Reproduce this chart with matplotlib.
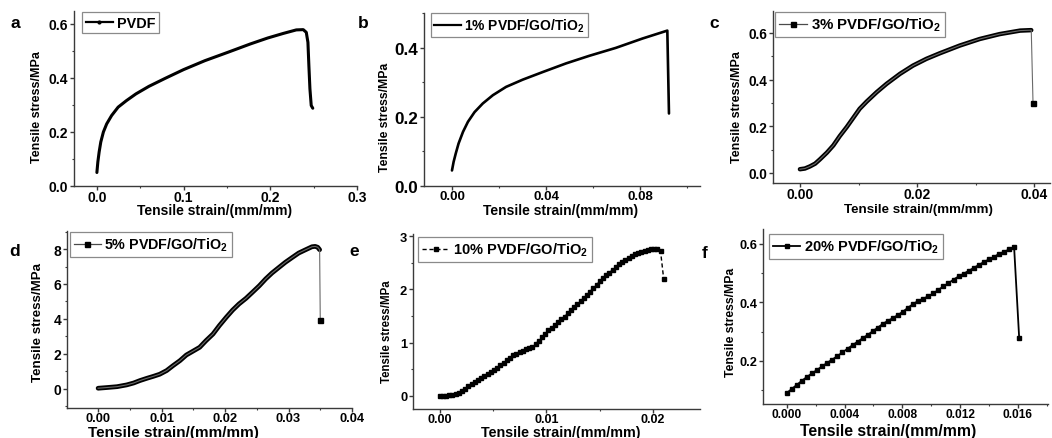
import matplotlib
matplotlib.use("Agg")
import matplotlib.pyplot as plt
from matplotlib.ticker import MultipleLocator
from matplotlib.lines import Line2D

plt.rcParams["font.family"] = ["Liberation Sans", "DejaVu Sans"]
plt.rcParams["font.weight"] = "bold"
plt.rcParams["mathtext.fontset"] = "custom"
plt.rcParams["mathtext.rm"] = "Liberation Sans:bold"
plt.rcParams["mathtext.bf"] = "Liberation Sans:bold"
plt.rcParams["mathtext.default"] = "bf"

# ---- data: tensile stress (MPa) vs tensile strain (mm/mm) ----
a_strain = [0, 0.0011, 0.0026, 0.0045, 0.0075, 0.0113, 0.017, 0.0245, 0.034, 0.045,
            0.060, 0.079, 0.1, 0.1245, 0.151, 0.177, 0.197, 0.215, 0.23, 0.238,
            0.2415, 0.2434, 0.2445, 0.2457, 0.2472, 0.249]
a_stress = [0.05, 0.089, 0.126, 0.163, 0.2, 0.23, 0.261, 0.292, 0.316, 0.341,
            0.369, 0.399, 0.431, 0.464, 0.495, 0.526, 0.548, 0.565, 0.578, 0.579,
            0.569, 0.532, 0.446, 0.36, 0.298, 0.288]

b_strain = [0, 0.0007, 0.0016, 0.0028, 0.0047, 0.0068, 0.0096, 0.0131, 0.0174, 0.023,
            0.0301, 0.0386, 0.0485, 0.0584, 0.0697, 0.081, 0.0916, 0.0923]
b_stress = [0.045, 0.07, 0.094, 0.123, 0.157, 0.186, 0.214, 0.239, 0.263, 0.287,
            0.308, 0.33, 0.355, 0.377, 0.4, 0.427, 0.45, 0.21]

c_strain = [0, 0.00085, 0.0017, 0.0026, 0.0034, 0.0046, 0.0057, 0.0068, 0.008, 0.0091,
            0.0102, 0.0114, 0.0131, 0.0148, 0.0171, 0.0193, 0.0216, 0.0239, 0.0273, 0.0307,
            0.0341, 0.0376, 0.0395, 0.0398]
c_stress = [0.016, 0.019, 0.028, 0.04, 0.058, 0.087, 0.118, 0.158, 0.197, 0.236,
            0.275, 0.306, 0.346, 0.382, 0.425, 0.46, 0.489, 0.513, 0.546, 0.574,
            0.595, 0.61, 0.612, 0.30]

d_strain = [0, 0.0014, 0.003, 0.0045, 0.0056, 0.0066, 0.0077, 0.0087, 0.0097, 0.0108,
            0.0118, 0.0129, 0.0139, 0.015, 0.016, 0.017, 0.0181, 0.0191, 0.0202, 0.0212,
            0.0222, 0.0233, 0.0243, 0.0254, 0.0264, 0.0274, 0.0285, 0.0295, 0.0306, 0.0316,
            0.0327, 0.0337, 0.0342, 0.0346, 0.0349, 0.035]
d_stress = [0.04, 0.08, 0.13, 0.23, 0.34, 0.48, 0.61, 0.72, 0.84, 1.05,
            1.33, 1.62, 1.94, 2.17, 2.38, 2.76, 3.14, 3.62, 4.1, 4.51,
            4.86, 5.18, 5.52, 5.9, 6.29, 6.63, 6.95, 7.24, 7.52, 7.77,
            7.96, 8.13, 8.15, 8.1, 7.96, 3.94]

e_strain = [0.0000, 0.0003, 0.0006, 0.0009, 0.0012, 0.0015, 0.0018, 0.0021, 0.0024, 0.0027,
            0.0030, 0.0033, 0.0036, 0.0039, 0.0042, 0.0045, 0.0048, 0.0051, 0.0054, 0.0057,
            0.0060, 0.0063, 0.0066, 0.0069, 0.0072, 0.0075, 0.0078, 0.0081, 0.0084, 0.0087,
            0.0090, 0.0093, 0.0096, 0.0099, 0.0102, 0.0105, 0.0108, 0.0111, 0.0114, 0.0117,
            0.0120, 0.0123, 0.0126, 0.0129, 0.0132, 0.0135, 0.0138, 0.0141, 0.0144, 0.0147,
            0.0150, 0.0153, 0.0156, 0.0159, 0.0162, 0.0165, 0.0168, 0.0171, 0.0174, 0.0177,
            0.0180, 0.0183, 0.0186, 0.0189, 0.0192, 0.0195, 0.0198, 0.0201, 0.0204, 0.0207,
            0.0210]
e_stress = [0.00, 0.00, 0.00, 0.01, 0.02, 0.04, 0.065, 0.10, 0.14, 0.18,
            0.22, 0.26, 0.30, 0.34, 0.38, 0.415, 0.45, 0.49, 0.53, 0.575,
            0.62, 0.67, 0.72, 0.76, 0.79, 0.825, 0.85, 0.875, 0.90, 0.92,
            0.98, 1.04, 1.11, 1.17, 1.23, 1.28, 1.33, 1.38, 1.44, 1.49,
            1.55, 1.61, 1.67, 1.72, 1.78, 1.84, 1.90, 1.96, 2.03, 2.09,
            2.15, 2.21, 2.27, 2.31, 2.37, 2.43, 2.47, 2.52, 2.56, 2.59,
            2.63, 2.66, 2.69, 2.71, 2.73, 2.745, 2.75, 2.755, 2.75, 2.72,
            2.19]

f_strain = [0.0, 0.00035, 0.0007, 0.00105, 0.0014, 0.00175, 0.0021, 0.00245, 0.0028, 0.00315,
            0.0035, 0.00385, 0.0042, 0.00455, 0.0049, 0.00525, 0.0056, 0.00595, 0.0063, 0.00665,
            0.007, 0.00735, 0.0077, 0.00805, 0.0084, 0.00875, 0.0091, 0.00945, 0.0098, 0.01015,
            0.0105, 0.01085, 0.0112, 0.01155, 0.0119, 0.01225, 0.0126, 0.01295, 0.0133, 0.01365,
            0.014, 0.01435, 0.0147, 0.01505, 0.0154, 0.01575, 0.0161]
f_stress = [0.091, 0.105, 0.119, 0.133, 0.146, 0.158, 0.170, 0.182, 0.194, 0.205,
            0.217, 0.229, 0.242, 0.254, 0.266, 0.278, 0.289, 0.302, 0.314, 0.327,
            0.337, 0.347, 0.357, 0.369, 0.382, 0.395, 0.405, 0.413, 0.421, 0.431,
            0.443, 0.455, 0.466, 0.478, 0.489, 0.498, 0.508, 0.518, 0.528, 0.538,
            0.547, 0.555, 0.566, 0.573, 0.581, 0.589, 0.28]

# tick positions and labels
a_xticks, a_xlabels = [0, 0.1, 0.2, 0.3], ["0.0", "0.1", "0.2", "0.3"]
a_yticks, a_ylabels = [0, 0.2, 0.4, 0.6], ["0.0", "0.2", "0.4", "0.6"]
b_xticks, b_xlabels = [0, 0.04, 0.08], ["0.00", "0.04", "0.08"]
b_yticks, b_ylabels = [0, 0.2, 0.4], ["0.0", "0.2", "0.4"]
c_xticks, c_xlabels = [0, 0.02, 0.04], ["0.00", "0.02", "0.04"]
c_yticks, c_ylabels = [0, 0.2, 0.4, 0.6], ["0.0", "0.2", "0.4", "0.6"]
d_xticks, d_xlabels = [0, 0.01, 0.02, 0.03, 0.04], ["0.00", "0.01", "0.02", "0.03", "0.04"]
d_yticks, d_ylabels = [0, 2, 4, 6, 8], ["0", "2", "4", "6", "8"]
e_xticks, e_xlabels = [0, 0.01, 0.02], ["0.00", "0.01", "0.02"]
e_yticks, e_ylabels = [0, 1, 2, 3], ["0", "1", "2", "3"]
f_xticks, f_xlabels = [0, 0.004, 0.008, 0.012, 0.016], ["0.000", "0.004", "0.008", "0.012", "0.016"]
f_yticks, f_ylabels = [0.2, 0.4, 0.6], ["0.2", "0.4", "0.6"]

series_names = ["PVDF", "1% PVDF/GO/TiO$_2$", "3% PVDF/GO/TiO$_2$",
                "5% PVDF/GO/TiO$_2$", "10% PVDF/GO/TiO$_2$", "20% PVDF/GO/TiO$_2$"]
XLAB = "Tensile strain/(mm/mm)"
YLAB = "Tensile stress/MPa"

# ---- layout (pixel units on a 1052 x 439 canvas) ----
W, H = 1052, 439
fig = plt.figure(figsize=(W / 100, H / 100), dpi=100)
AX_COLOR = "#3a3a3a"


def fx(px):
    return px / W


def fy(py):
    return 1 - py / H


def make_axes(box, xlim, ylim, xt, xl, yt, yl, xminor, yminor, xsize, ysize):
    l, t, r, b = box
    ax = fig.add_axes([fx(l), fy(b), (r - l) / W, (b - t) / H])
    for s in ("top", "right"):
        ax.spines[s].set_visible(False)
    for s in ("left", "bottom"):
        ax.spines[s].set_color(AX_COLOR)
        ax.spines[s].set_linewidth(1.0)
    ax.set_xlim(*xlim)
    ax.set_ylim(*ylim)
    ax.set_xticks(xt, xl)
    ax.set_yticks(yt, yl)
    ax.xaxis.set_minor_locator(MultipleLocator(xminor))
    ax.yaxis.set_minor_locator(MultipleLocator(yminor))
    ax.tick_params(which="major", direction="out", length=2.6, width=1.0,
                   color=AX_COLOR)
    ax.tick_params(which="minor", direction="out", length=1.6, width=0.8,
                   color=AX_COLOR)
    ax.tick_params(axis="x", which="major", labelsize=xsize, pad=0.4)
    ax.tick_params(axis="y", which="major", labelsize=ysize, pad=1.6)
    for lab in ax.get_xticklabels() + ax.get_yticklabels():
        lab.set_fontweight("bold")
    return ax


def add_labels(ax, xpos, xsize, ypos, ysize):
    ax.set_xlabel(XLAB, fontsize=xsize, fontweight="bold", va="center")
    ax.xaxis.set_label_coords(fx(xpos[0]), fy(xpos[1]), transform=fig.transFigure)
    ax.set_ylabel(YLAB, fontsize=ysize, fontweight="bold", va="center", ha="center")
    ax.yaxis.set_label_coords(fx(ypos[0]), fy(ypos[1]), transform=fig.transFigure)


def add_legend(ax, handle, name, corner, size):
    leg = ax.legend([handle], [name], loc="upper left",
                    bbox_to_anchor=(fx(corner[0]), fy(corner[1])),
                    bbox_transform=fig.transFigure, borderaxespad=0,
                    fancybox=False, framealpha=1, edgecolor="#8a8a8a",
                    borderpad=0.25, handlelength=1.9, handletextpad=0.25,
                    prop={"size": size, "weight": "bold"})
    leg.get_frame().set_linewidth(0.9)


def panel_letter(x, y, s):
    fig.text(fx(x), fy(y), s, fontsize=12.5, fontweight="bold",
             ha="center", va="center")


# (a) PVDF
ax = make_axes((74, 12, 357, 187), (-0.0264, 0.3), (0, 0.648),
               a_xticks, a_xlabels, a_yticks, a_ylabels, 0.05, 0.1, 10, 10)
ax.plot(a_strain, a_stress, color="black", lw=2.2, solid_capstyle="round",
        solid_joinstyle="round")
add_labels(ax, (215, 211.5), 10, (37, 107), 9)
add_legend(ax, Line2D([], [], color="black", lw=1.6, marker="o", ms=2),
           series_names[0], (82, 13), 10.4)
panel_letter(15, 23, "a")

# (b) 1 %
ax = make_axes((424, 14, 700, 187), (-0.0119, 0.1055), (0, 0.501),
               b_xticks, b_xlabels, b_yticks, b_ylabels, 0.02, 0.1, 9.5, 12.3)
ax.plot(b_strain, b_stress, color="black", lw=1.9, solid_capstyle="round",
        solid_joinstyle="round")
add_labels(ax, (561, 211.5), 10, (385, 117), 8.8)
add_legend(ax, Line2D([], [], color="black", lw=1.6),
           series_names[1], (431, 14), 10)
panel_letter(363, 23, "b")

# (c) 3 %
ax = make_axes((773, 12, 1050, 184), (-0.0046, 0.0427), (-0.043, 0.694),
               c_xticks, c_xlabels, c_yticks, c_ylabels, 0.01, 0.1, 10, 9.8)
ax.plot(c_strain[:-1], c_stress[:-1], color="black", lw=3.2, solid_capstyle="round",
        solid_joinstyle="round")
ax.plot(c_strain, c_stress, color="#6a6a6a", lw=0.8, marker="s", ms=3.6,
        mfc="black", mec="black", markevery=[len(c_strain) - 1])
add_labels(ax, (918, 210.5), 9.6, (737, 107), 9)
add_legend(ax, Line2D([], [], color="#4a4a4a", lw=0.9, marker="s", ms=3.6,
                      mfc="black", mec="black"),
           series_names[2], (775, 13), 10.8)
panel_letter(714, 23, "c")

# (d) 5 %
ax = make_axes((67, 232, 352, 409), (-0.0049, 0.04), (-1.09, 9.03),
               d_xticks, d_xlabels, d_yticks, d_ylabels, 0.005, 1, 9.3, 10)
ax.plot(d_strain[:-1], d_stress[:-1], color="black", lw=3.4, solid_capstyle="round",
        solid_joinstyle="round")
ax.plot(d_strain, d_stress, color="#6a6a6a", lw=0.8, marker="s", ms=3.6,
        mfc="black", mec="black", markevery=[len(d_strain) - 1])
add_labels(ax, (173, 433), 11, (38, 323), 9.6)
add_legend(ax, Line2D([], [], color="#4a4a4a", lw=0.9, marker="s", ms=3.6,
                      mfc="black", mec="black"),
           series_names[3], (70, 233), 10.3)
panel_letter(15, 252, "d")

# (e) 10 %
ax = make_axes((413, 235, 700, 410), (-0.0025, 0.0244), (-0.244, 3.04),
               e_xticks, e_xlabels, e_yticks, e_ylabels, 0.005, 0.5, 9, 9.3)
ax.plot(e_strain, e_stress, color="black", lw=1.0, ls=(0, (3, 2)),
        marker="s", ms=2.6, mfc="black", mec="black")
add_labels(ax, (561, 433), 10.3, (387, 332), 8.3)
add_legend(ax, Line2D([], [], color="black", lw=1.0, ls=(0, (3, 2)), marker="s",
                      ms=2.6, mfc="black", mec="black"),
           series_names[4], (418, 238), 10.5)
panel_letter(354, 252, "e")

# (f) 20 %
ax = make_axes((763, 230, 1048, 405), (-0.00166, 0.0181), (0.053, 0.651),
               f_xticks, f_xlabels, f_yticks, f_ylabels, 0.002, 0.1, 8.6, 9.2)
ax.plot(f_strain, f_stress, color="black", lw=1.3, marker="s", ms=2.8,
        mfc="black", mec="black")
add_labels(ax, (888, 432), 11.3, (731.5, 322), 8.8)
add_legend(ax, Line2D([], [], color="black", lw=1.3, marker="s", ms=2.8,
                      mfc="black", mec="black"),
           series_names[5], (769, 235), 10.5)
panel_letter(705, 253, "f")

fig.savefig("out.png", dpi=100)
